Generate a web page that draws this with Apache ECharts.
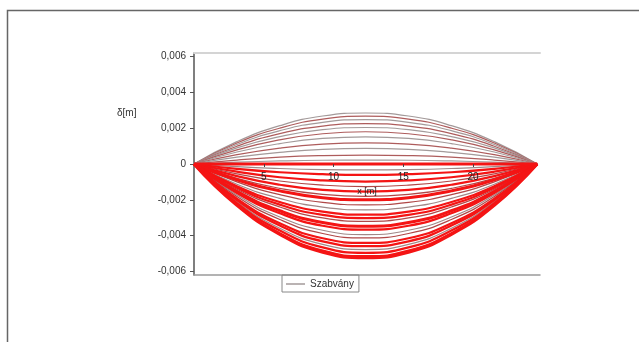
<!DOCTYPE html>
<html>
<head>
<meta charset="utf-8">
<script src="https://cdn.jsdelivr.net/npm/echarts@6/dist/echarts.min.js"></script>
<style>
  html, body { margin: 0; padding: 0; background: #fff; }
  #chart { width: 639px; height: 342px; }
</style>
</head>
<body>
<div id="chart"></div>
<script>
// Stations along the span [m]
const stations = [0, 3.075, 6.15, 9.225, 12.3, 15.375, 18.45, 21.525, 24.6];

// Upward deflection lines [m]
const upCurves = [
  [0, 0.00125, 0.00214, 0.00268, 0.00285, 0.00268, 0.00214, 0.00125, 0],
  [0, 0.00117, 0.00200, 0.00251, 0.00267, 0.00251, 0.00200, 0.00117, 0],
  [0, 0.00109, 0.00186, 0.00233, 0.00248, 0.00233, 0.00186, 0.00109, 0],
  [0, 0.00099, 0.00170, 0.00212, 0.00226, 0.00212, 0.00170, 0.00099, 0],
  [0, 0.00090, 0.00153, 0.00192, 0.00204, 0.00192, 0.00153, 0.00090, 0],
  [0, 0.00079, 0.00135, 0.00169, 0.00180, 0.00169, 0.00135, 0.00079, 0],
  [0, 0.00067, 0.00114, 0.00143, 0.00152, 0.00143, 0.00114, 0.00067, 0],
  [0, 0.00052, 0.00089, 0.00111, 0.00118, 0.00111, 0.00089, 0.00052, 0],
  [0, 0.00038, 0.00065, 0.00082, 0.00087, 0.00082, 0.00065, 0.00038, 0],
  [0, 0.00022, 0.00038, 0.00047, 0.00050, 0.00047, 0.00038, 0.00022, 0],
  [0, 0.00010, 0.00017, 0.00021, 0.00022, 0.00021, 0.00017, 0.00010, 0]
];

// Undeformed line [m]
const baseLine = [0, 0, 0, 0, 0, 0, 0, 0, 0];

// Downward deflection lines [m]
const downCurves = [
  [0, -0.00015, -0.00025, -0.00031, -0.00033, -0.00031, -0.00025, -0.00015, 0],
  [0, -0.00027, -0.00046, -0.00057, -0.00061, -0.00057, -0.00046, -0.00027, 0],
  [0, -0.00043, -0.00074, -0.00092, -0.00098, -0.00092, -0.00074, -0.00043, 0],
  [0, -0.00055, -0.00095, -0.00118, -0.00126, -0.00118, -0.00095, -0.00055, 0],
  [0, -0.00068, -0.00116, -0.00145, -0.00154, -0.00145, -0.00116, -0.00068, 0],
  [0, -0.00080, -0.00136, -0.00170, -0.00181, -0.00170, -0.00136, -0.00080, 0],
  [0, -0.00088, -0.00150, -0.00188, -0.00200, -0.00188, -0.00150, -0.00088, 0],
  [0, -0.00100, -0.00171, -0.00214, -0.00228, -0.00214, -0.00171, -0.00100, 0],
  [0, -0.00113, -0.00192, -0.00241, -0.00256, -0.00241, -0.00192, -0.00113, 0],
  [0, -0.00125, -0.00212, -0.00266, -0.00283, -0.00266, -0.00212, -0.00125, 0],
  [0, -0.00133, -0.00227, -0.00284, -0.00302, -0.00284, -0.00227, -0.00133, 0],
  [0, -0.00141, -0.00240, -0.00301, -0.00320, -0.00301, -0.00240, -0.00141, 0],
  [0, -0.00153, -0.00261, -0.00327, -0.00348, -0.00327, -0.00261, -0.00153, 0],
  [0, -0.00162, -0.00275, -0.00345, -0.00367, -0.00345, -0.00275, -0.00162, 0],
  [0, -0.00173, -0.00296, -0.00370, -0.00394, -0.00370, -0.00296, -0.00173, 0],
  [0, -0.00182, -0.00310, -0.00388, -0.00413, -0.00388, -0.00310, -0.00182, 0],
  [0, -0.00194, -0.00331, -0.00415, -0.00441, -0.00415, -0.00331, -0.00194, 0],
  [0, -0.00202, -0.00344, -0.00432, -0.00459, -0.00432, -0.00344, -0.00202, 0],
  [0, -0.00210, -0.00359, -0.00449, -0.00478, -0.00449, -0.00359, -0.00210, 0],
  [0, -0.00218, -0.00372, -0.00466, -0.00496, -0.00466, -0.00372, -0.00218, 0],
  [0, -0.00227, -0.00386, -0.00484, -0.00515, -0.00484, -0.00386, -0.00227, 0],
  [0, -0.00231, -0.00393, -0.00493, -0.00524, -0.00493, -0.00393, -0.00231, 0]
];

// Axis ticks and limits
const yTicks = [-0.006, -0.004, -0.002, 0, 0.002, 0.004, 0.006];
const yMin = -0.0062;
const yMax = 0.0062;
const xTicks = [5, 10, 15, 20];
const xMax = 24.8;

const legendName = 'Szabvány';
// which downward lines are drawn in bright red
const redDown = [1, 2, 4, 6, 9, 10, 12, 13, 16, 17, 19, 20, 21];

const FONT = '"Liberation Sans", Arial, sans-serif';

// plot box (pixels)
const GRID = { left: 194, right: 99, top: 53, bottom: 67 };
const plotH = 342 - GRID.top - GRID.bottom;
// the x axis runs through y = 0, so lift it from the bottom edge to there
const zeroLift = -plotH * (0 - yMin) / (yMax - yMin);

function toPoints(vals) {
  return stations.map((x, i) => [x, vals[i]]);
}

const thinSeries = [];
const redSeries = [];

upCurves.forEach((c, i) => {
  const gray = i % 2 === 0;
  const col = gray ? '#a39a9a' : '#ae5c5c';
  thinSeries.push({
    type: 'line',
    name: gray ? legendName : 'up' + i,
    data: toPoints(c),
    smooth: true,
    symbol: 'none',
    silent: true,
    itemStyle: { color: col },
    lineStyle: { color: col, width: 1.2 },
    z: 2
  });
});

downCurves.forEach((c, i) => {
  const isRed = redDown.indexOf(i) >= 0;
  const col = isRed ? '#f41414' : (i % 2 === 0 ? '#a08888' : '#b04848');
  const s = {
    type: 'line',
    name: isRed ? 'red' + i : (i % 2 === 0 ? legendName : 'down' + i),
    data: toPoints(c),
    smooth: true,
    symbol: 'none',
    silent: true,
    itemStyle: { color: col },
    lineStyle: { color: col, width: isRed ? ((i === 21 || i === 6 || i === 12) ? 3 : 2.2) : 1.2 },
    z: isRed ? 4 : 3
  };
  (isRed ? redSeries : thinSeries).push(s);
});

redSeries.push({
  type: 'line',
  name: 'base',
  data: toPoints(baseLine),
  symbol: 'none',
  silent: true,
  itemStyle: { color: '#f41414' },
  lineStyle: { color: '#f41414', width: 3 },
  z: 5
});

const chart = echarts.init(document.getElementById('chart'), null, { renderer: 'canvas' });

chart.setOption({
  animation: false,
  backgroundColor: '#ffffff',
  title: {
    text: 'δ[m]',
    left: 112,
    top: 103,
    textStyle: { fontFamily: FONT, fontSize: 10, fontWeight: 'normal', color: '#333' }
  },
  legend: {
    data: [legendName],
    left: 282,
    top: 275,
    orient: 'horizontal',
    icon: 'rect',
    padding: [4, 5, 3, 4],
    itemWidth: 19,
    itemHeight: 1.5,
    borderColor: '#888',
    borderWidth: 1,
    borderRadius: 0,
    textStyle: { fontFamily: FONT, fontSize: 10, color: '#333' }
  },
  graphic: [{
    type: 'rect',
    shape: { x: 7.5, y: 10.5, width: 700, height: 400 },
    style: { fill: 'none', stroke: '#666', lineWidth: 1.5 },
    silent: true
  }],
  grid: GRID,
  xAxis: [{
    // main x axis through zero deflection, labels drawn over the curves
    type: 'value',
    min: 0,
    max: xMax,
    position: 'bottom',
    offset: zeroLift,
    zlevel: 1,
    z: 10,
    name: 'x [m]',
    nameLocation: 'middle',
    nameGap: 22,
    nameTextStyle: { fontFamily: FONT, fontSize: 9, color: '#222' },
    axisLine: { show: false, onZero: false },
    axisTick: { show: true, length: 3, customValues: xTicks, lineStyle: { color: '#444' } },
    axisLabel: {
      customValues: xTicks,
      fontFamily: FONT, fontSize: 10, color: '#222', margin: 8
    },
    splitLine: { show: false }
  }, {
    // top frame line
    type: 'value',
    min: 0,
    max: xMax,
    position: 'top',
    axisLine: { show: true, onZero: false, lineStyle: { color: '#d4d4d4', width: 2 } },
    axisTick: { show: false },
    axisLabel: { show: false },
    splitLine: { show: false }
  }, {
    // bottom frame line
    type: 'value',
    min: 0,
    max: xMax,
    position: 'bottom',
    axisLine: { show: true, onZero: false, lineStyle: { color: '#9a9a9a', width: 1.5 } },
    axisTick: { show: false },
    axisLabel: { show: false },
    splitLine: { show: false }
  }],
  yAxis: {
    type: 'value',
    min: yMin,
    max: yMax,
    axisLine: { show: true, onZero: false, lineStyle: { color: '#555', width: 1.5 } },
    axisTick: { show: true, length: 4, customValues: yTicks, lineStyle: { color: '#555' } },
    axisLabel: {
      customValues: yTicks,
      fontFamily: FONT, fontSize: 10, color: '#333', margin: 8,
      formatter: v => (Math.abs(v) < 1e-12 ? '0' : v.toFixed(3).replace('.', ','))
    },
    splitLine: { show: false }
  },
  series: thinSeries.concat(redSeries)
});
</script>
</body>
</html>
